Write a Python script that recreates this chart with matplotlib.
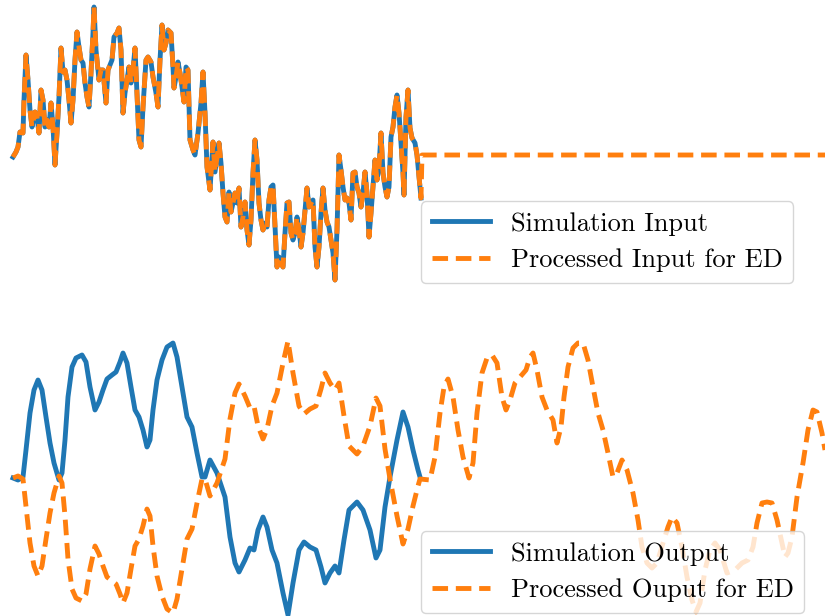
import matplotlib
matplotlib.use("Agg")
import matplotlib.pyplot as plt
import numpy as np

plt.rcParams['font.family'] = ['cmr10', 'DejaVu Serif']
plt.rcParams['axes.unicode_minus'] = False

# simulation input (time step, value)
input_t = [0, 3, 5, 7, 10, 11, 13, 15, 17, 19, 22, 24, 26, 28, 30, 32, 34, 36, 38, 40,
           42, 44, 46, 48, 50, 52, 54, 56, 58, 60, 62, 64, 66, 68, 70, 72, 74, 76, 78, 80,
           81, 83, 86, 88, 90, 93, 95, 99, 101, 104, 106, 108, 110, 112, 116, 118, 120, 122, 124, 126,
           128, 130, 133, 135, 138, 140, 143, 145, 147, 149, 151, 153, 155, 158, 160, 161, 163, 165, 167, 169,
           171, 173, 175, 177, 180, 182, 185, 188, 190, 192, 194, 197, 200, 202, 206, 208, 210, 212, 214, 216,
           218, 220, 222, 224, 226, 228, 230, 232, 234, 236, 238, 240, 242, 244, 246, 248, 250, 252, 254, 256,
           258, 260, 262, 264, 266, 268, 270, 272, 274, 276, 278, 280, 282, 284, 286, 288, 290, 292, 294, 296,
           300, 302, 304, 306, 308, 310, 312, 314, 316, 318, 320, 322, 324, 326, 328, 330, 332, 334, 336, 338,
           340, 342, 344, 346, 348, 350, 352, 354, 356, 358, 360, 362, 364, 366, 368, 370, 372, 374, 376, 378,
           380, 382, 384, 386, 388, 390, 391, 393, 395, 397, 399, 402, 404, 406, 408]
input_val = [-0.02, 0.03, 0.08, 0.23, 0.22, 0.55, 1.00, 0.75, 0.45, 0.28, 0.43, 0.38, 0.22, 0.65, 0.55, 0.28, 0.35, 0.28, 0.52, 0.28,
             -0.10, 0.22, 0.58, 1.07, 0.83, 0.85, 0.75, 0.55, 0.32, 0.55, 0.95, 1.23, 1.08, 0.95, 0.92, 0.72, 0.58, 0.48, 0.82, 1.22,
             1.48, 1.05, 0.75, 0.85, 0.85, 0.52, 0.85, 0.95, 1.18, 1.22, 1.27, 1.05, 0.42, 0.62, 0.88, 0.72, 0.85, 1.07, 0.62, 0.15,
             0.08, 0.48, 0.95, 0.98, 0.93, 0.78, 0.62, 0.48, 0.95, 1.30, 1.05, 1.12, 1.25, 1.22, 0.88, 0.67, 0.78, 0.93, 0.82, 0.68,
             0.53, 0.88, 0.85, 0.15, 0.05, 0.00, 0.22, 0.52, 0.83, 0.42, -0.12, -0.35, 0.13, -0.17, 0.12, -0.08, -0.38, -0.62, -0.67, -0.37,
             -0.57, -0.48, -0.38, -0.48, -0.33, -0.72, -0.62, -0.47, -0.75, -0.90, -0.65, -0.18, 0.15, -0.05, -0.48, -0.65, -0.75, -0.68, -0.72, -0.45,
             -0.32, -0.30, -0.72, -1.12, -1.02, -1.08, -1.12, -0.78, -0.48, -0.47, -0.78, -0.85, -0.78, -0.62, -0.75, -0.92, -0.78, -0.55, -0.33, -0.52,
             -0.45, -0.92, -1.12, -0.92, -0.58, -0.33, -0.55, -0.67, -0.72, -0.85, -0.98, -1.25, -0.75, 0.00, -0.15, -0.32, -0.45, -0.43, -0.48, -0.65,
             -0.18, -0.17, -0.32, -0.38, -0.52, -0.38, -0.17, -0.38, -0.82, -0.58, -0.32, -0.05, -0.25, -0.12, 0.22, -0.18, -0.32, -0.42, -0.32, 0.18,
             0.28, 0.48, 0.60, 0.42, 0.12, -0.18, -0.40, 0.38, 0.65, 0.27, 0.17, 0.12, 0.00, -0.22, -0.43]

# processed input: simulation input padded with zeros to the full horizon
pad_t = [409, 812]
pad_val = [0.0, 0.0]

# simulation output
output_t = [0, 5, 10, 13, 17, 21, 25, 29, 33, 37, 41, 46, 49, 52, 55, 59, 63, 69, 73, 77,
            82, 86, 90, 94, 99, 103, 107, 110, 114, 118, 122, 126, 130, 134, 137, 140, 144, 149, 154, 160,
            164, 169, 174, 179, 184, 189, 192, 197, 204, 212, 217, 222, 226, 232, 237, 241, 245, 250, 254, 259,
            264, 270, 275, 280, 286, 291, 297, 303, 308, 312, 317, 322, 326, 331, 336, 344, 350, 357, 363, 367,
            372, 377, 384, 390, 395, 400, 405, 407]
output_val = [0.00, -0.02, 0.01, 0.28, 0.65, 0.88, 0.98, 0.88, 0.61, 0.35, 0.15, -0.02, 0.05, 0.38, 0.81, 1.11, 1.20, 1.23, 1.16, 0.91,
              0.68, 0.76, 0.88, 0.99, 1.03, 1.06, 1.16, 1.25, 1.15, 0.91, 0.68, 0.61, 0.48, 0.31, 0.38, 0.68, 0.98, 1.18, 1.31, 1.35,
              1.21, 0.91, 0.61, 0.51, 0.25, 0.01, 0.01, 0.18, 0.05, -0.19, -0.59, -0.85, -0.94, -0.82, -0.70, -0.72, -0.52, -0.39, -0.49, -0.72,
              -0.85, -1.15, -1.37, -1.05, -0.72, -0.64, -0.69, -0.72, -0.89, -1.05, -0.95, -0.88, -0.95, -0.62, -0.32, -0.24, -0.32, -0.52, -0.80, -0.72,
              -0.29, 0.01, 0.38, 0.66, 0.51, 0.28, 0.08, 0.01]

# processed output beyond the simulation horizon
ext_t = [417, 422, 427, 431, 435, 440, 445, 450, 456, 460, 464, 469, 474, 479, 484, 489, 493, 497, 502, 507,
         513, 517, 520, 524, 529, 534, 540, 544, 548, 551, 555, 560, 565, 570, 575, 580, 585, 590, 595, 600,
         604, 609, 614, 620, 625, 629, 634, 639, 644, 650, 655, 659, 664, 669, 674, 679, 683, 687, 692, 697,
         702, 707, 714, 722, 729, 735, 740, 744, 749, 754, 759, 764, 769, 772, 775, 779, 784, 790, 795, 800,
         804, 809, 812]
ext_val = [-0.02, 0.21, 0.65, 0.91, 0.99, 0.81, 0.48, 0.21, 0.00, 0.15, 0.65, 1.05, 1.20, 1.23, 1.15, 0.81, 0.68, 0.78, 0.95, 1.01,
           1.08, 1.21, 1.25, 1.08, 0.81, 0.68, 0.58, 0.35, 0.51, 0.81, 1.11, 1.30, 1.35, 1.35, 1.18, 0.91, 0.65, 0.48, 0.25, 0.01,
           0.05, 0.18, 0.08, -0.15, -0.42, -0.69, -0.85, -0.90, -0.85, -0.65, -0.49, -0.39, -0.45, -0.69, -0.99, -1.22, -1.34, -1.25, -0.92, -0.72,
           -0.65, -0.72, -0.95, -0.92, -0.85, -0.82, -0.69, -0.45, -0.25, -0.24, -0.25, -0.42, -0.65, -0.79, -0.75, -0.59, -0.19, 0.15, 0.48, 0.68,
           0.66, 0.45, 0.28]

BLUE = '#1f77b4'
ORANGE = '#ff7f0e'
LW = 3.5
DASH = (3.2, 1.6)

fig = plt.figure(figsize=(8.25, 6.16), dpi=100)
ax_in = fig.add_axes([0, 1 - 290 / 616, 1, 290 / 616])
ax_out = fig.add_axes([0, 0, 1, 286 / 616])

# input panel
ax_in.plot(input_t, input_val, color=BLUE, lw=LW, label='Simulation Input')
ax_in.plot(input_t + pad_t, input_val + pad_val, color=ORANGE, lw=LW,
           ls='--', dashes=DASH, label='Processed Input for ED')
ax_in.set_xlim(-13, 812)
ax_in.set_ylim(-1.35, 1.55)

# output panel (the processed output is the negated simulation output, then extended)
proc_out = list(-np.array(output_val)) + ext_val
ax_out.plot(output_t, output_val, color=BLUE, lw=LW, label='Simulation Output')
ax_out.plot(output_t + ext_t, proc_out, color=ORANGE, lw=LW,
            ls='--', dashes=DASH, label='Processed Ouput for ED')
ax_out.set_xlim(-13, 812)
ax_out.set_ylim(-1.38, 1.48)

for ax, bottom in [(ax_in, 283), (ax_out, 613)]:
    ax.axis('off')
    ax.legend(loc='lower left', bbox_to_anchor=(421 / 825, 1 - bottom / 616),
              bbox_transform=fig.transFigure, borderaxespad=0,
              fontsize=19, handlelength=2.2)

fig.savefig('out.png', dpi=100)
